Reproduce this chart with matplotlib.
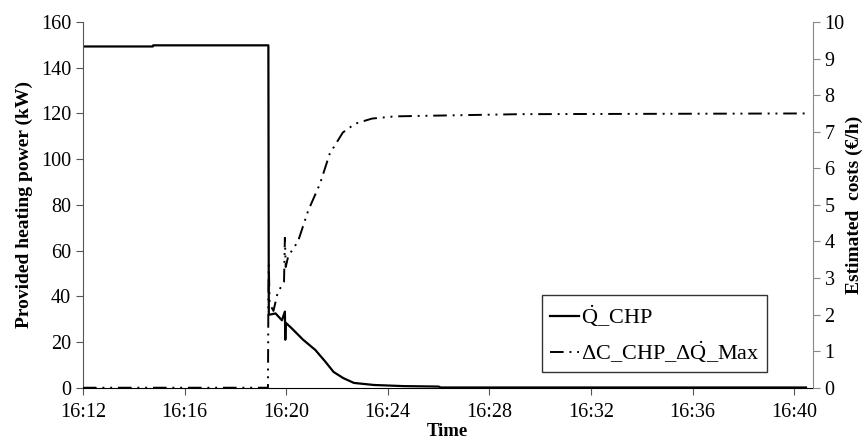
"""
CHP heating power vs. estimated cost difference, twin y axes over time.
"""
from datetime import datetime

import matplotlib.dates as mdates
import matplotlib.pyplot as plt

# provided heating power of the CHP unit (kW)
q_times = ["16:12:00", "16:14:45", "16:14:46", "16:19:18", "16:19:19", "16:19:35",
           "16:19:50", "16:19:57", "16:19:58", "16:19:59", "16:20:12", "16:20:40",
           "16:21:09", "16:21:33", "16:21:52", "16:22:15", "16:22:40", "16:23:27",
           "16:24:38", "16:26:00", "16:26:05", "16:40:28"]
q_chp = [149.3, 149.3, 149.8, 149.8, 31.9, 32.5,
         29.5, 33.3, 21.0, 28.4, 26.2, 21.0,
         16.5, 11.3, 6.9, 4.2, 2.1, 1.2,
         0.7, 0.5, 0.1, 0.1]

# estimated cost difference (EUR/h)
c_times = ["16:12:00", "16:19:17", "16:19:18", "16:19:19", "16:19:21", "16:19:30",
           "16:19:40", "16:19:55", "16:19:57", "16:19:59", "16:20:05", "16:20:28",
           "16:20:52", "16:21:20", "16:21:43", "16:22:14", "16:22:43", "16:23:23",
           "16:24:17", "16:25:52", "16:29:12", "16:40:28"]
c_cost = [0.0, 0.0, 2.4, 3.35, 2.3, 2.1,
          2.6, 2.9, 4.1, 3.3, 3.6, 4.0,
          4.84, 5.58, 6.4, 6.98, 7.22, 7.36,
          7.42, 7.44, 7.48, 7.5]


def to_dt(s):
    return datetime.strptime("2000-01-01 " + s, "%Y-%m-%d %H:%M:%S")


plt.rcParams.update({
    "font.family": ["Liberation Serif", "DejaVu Serif"],
    "font.size": 14,
    "mathtext.fontset": "custom",
    "mathtext.rm": "Liberation Serif",
    "mathtext.it": "Liberation Serif:italic",
    "mathtext.bf": "Liberation Serif:bold",
})

fig = plt.figure(figsize=(8.67, 4.43), dpi=100)
ax = fig.add_axes([0.0957, 0.1248, 0.9374 - 0.0957, 0.9503 - 0.1248])
ax2 = ax.twinx()

l1, = ax.plot([to_dt(t) for t in q_times], q_chp, color="black", lw=1.6,
              label=r"$\mathrm{\dot{Q}}$_CHP")
l2, = ax2.plot([to_dt(t) for t in c_times], c_cost, color="black", lw=1.4,
               linestyle=(0, (7, 3, 1, 3, 1, 3)),
               label=r"$\mathrm{\Delta}$C_CHP_$\mathrm{\Delta\dot{Q}}$_Max")

ax.set_xlim(to_dt("16:12:00"), to_dt("16:40:44"))
ax.set_ylim(0, 160)
ax.set_yticks(range(0, 161, 20))
ax2.set_ylim(0, 10)
ax2.set_yticks(range(0, 11))

ax.xaxis.set_major_locator(mdates.MinuteLocator(byminute=range(0, 60, 4)))
ax.xaxis.set_major_formatter(mdates.DateFormatter("%H:%M"))

for a in (ax, ax2):
    a.spines["top"].set_visible(False)
ax.spines["left"].set_color("#555555")
ax.spines["bottom"].set_color("black")
ax.spines["right"].set_visible(False)
ax2.spines["left"].set_visible(False)
ax2.spines["bottom"].set_visible(False)
ax2.spines["right"].set_color("#888888")

ax.tick_params(axis="both", direction="out", length=5, labelsize=14.5, color="#555555")
ax.tick_params(axis="x", pad=6)
ax2.tick_params(axis="y", direction="out", length=5, labelsize=14.5, color="#888888")

ax.set_xlabel("Time", fontweight="bold", fontsize=13.5, labelpad=1)
ax.set_ylabel("Provided heating power (kW)", fontweight="bold", fontsize=14, labelpad=6)
ax2.set_ylabel("Estimated  costs (\u20ac/h)", fontweight="bold", fontsize=14, labelpad=1)

leg = ax2.legend(handles=[l1, l2], loc="upper left", bbox_to_anchor=(0.629, 0.2535),
                 borderaxespad=0, fontsize=16, frameon=True, fancybox=False,
                 handlelength=1.3, borderpad=0.35, labelspacing=0.45,
                 handletextpad=0.1)
leg.get_frame().set_edgecolor("black")
leg.get_frame().set_linewidth(1.0)

fig.savefig("out.png", dpi=100)
